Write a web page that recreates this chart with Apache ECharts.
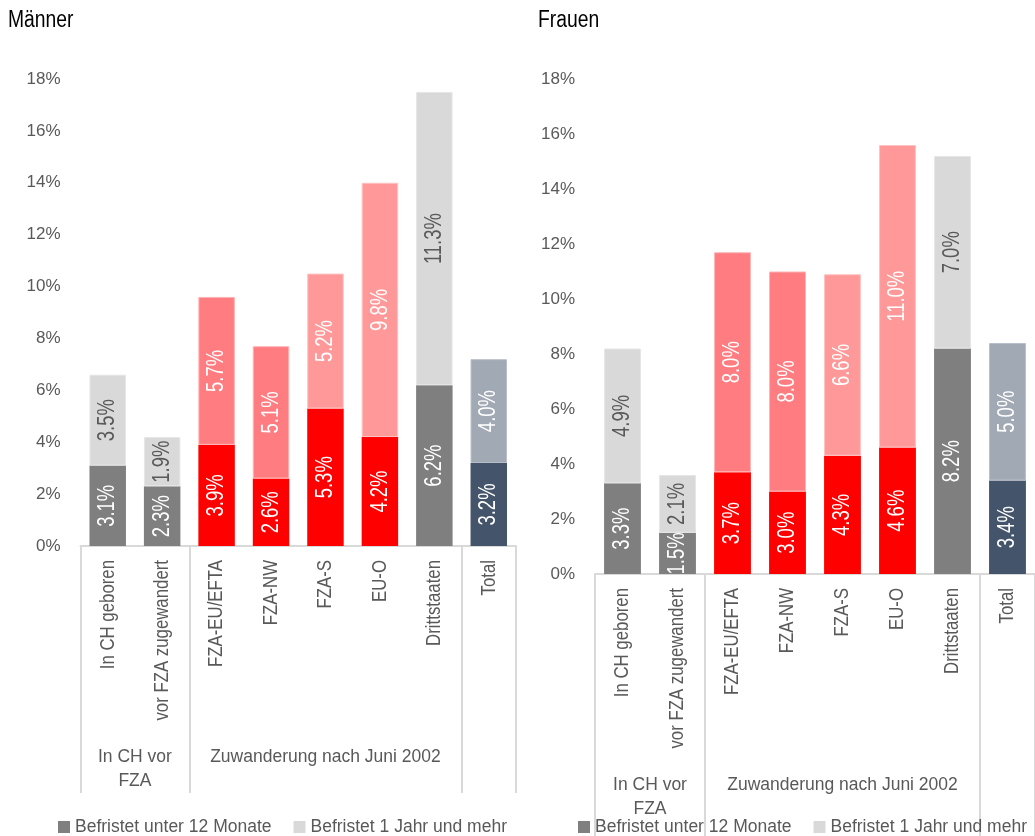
<!DOCTYPE html>
<html>
<head>
<meta charset="utf-8">
<script src="https://cdn.jsdelivr.net/npm/echarts@6/dist/echarts.min.js"></script>
<style>
  html, body { margin: 0; padding: 0; background: #ffffff; overflow: hidden; }
  #chart { width: 1035px; height: 836px; }
</style>
</head>
<body>
<div id="chart"></div>
<script>
// Befristete Anstellungen nach Herkunft, Männer und Frauen (in % der Erwerbstätigen)
const categories = ['In CH geboren', 'vor FZA zugewandert', 'FZA-EU/EFTA', 'FZA-NW', 'FZA-S', 'EU-O', 'Drittstaaten', 'Total'];
const groupNames = ['In CH vor\nFZA', 'Zuwanderung nach Juni 2002', ''];
const groupSizes = [2, 5, 1];
const panelTitles = ['Männer', 'Frauen'];

const seriesNames = ['Befristet unter 12 Monate', 'Befristet 1 Jahr und mehr'];
const menShort = [3.1, 2.3, 3.9, 2.6, 5.3, 4.2, 6.2, 3.2];
const menLong = [3.5, 1.9, 5.7, 5.1, 5.2, 9.8, 11.3, 4.0];
const womenShort = [3.3, 1.5, 3.7, 3.0, 4.3, 4.6, 8.2, 3.4];
const womenLong = [4.9, 2.1, 8.0, 8.0, 6.6, 11.0, 7.0, 5.0];

const yMin = 0, yMax = 18, yStep = 2;

// colours per category
const shortColors = ['#7f7f7f', '#7f7f7f', '#ff0000', '#ff0000', '#ff0000', '#ff0000', '#7f7f7f', '#44546a'];
const longColors = ['#d9d9d9', '#d9d9d9', '#ff7c80', '#ff7c80', '#ff9999', '#ff9999', '#d9d9d9', '#a1a9b4'];
const longBorders = ['#e6e6e6', '#e6e6e6', '#ffb3b5', '#ffb3b5', '#ffc2c2', '#ffc2c2', '#e6e6e6', '#b8bec7'];
const textGrey = '#595959';

const SANS = '"Liberation Sans", Arial, sans-serif';
// condensed look: text is squeezed along its reading direction
const NARROW_SCALE = 0.8;

// group boundaries and centres on a 0..n scale
const boundaries = [0];
const centres = [];
groupSizes.forEach(function (s) {
  const start = boundaries[boundaries.length - 1];
  centres.push(start + s / 2);
  boundaries.push(start + s);
});

function labelColour(bg) {
  return bg === '#d9d9d9' ? textGrey : '#ffffff';
}

function barData(values, colours, borders) {
  return values.map(function (v, i) {
    const style = { color: colours[i] };
    if (borders) { style.borderColor = borders[i]; style.borderWidth = 1; }
    return { value: v, itemStyle: style };
  });
}

const grids = [
  { left: 80.5, top: 79, width: 435.5, height: 467 },
  { left: 595, top: 79, width: 447, height: 495 }
];
const groupTickLen = [247, 265];
const titlePos = [[8, 21], [538, 21]];

const xAxes = [];
const yAxes = [];
grids.forEach(function (g, gi) {
  xAxes.push({
    gridIndex: gi,
    type: 'category',
    data: categories,
    axisLine: { lineStyle: { color: '#d9d9d9', width: 2 } },
    axisTick: { show: false },
    axisLabel: { show: false }
  });
  xAxes.push({
    gridIndex: gi,
    type: 'value',
    min: 0,
    max: categories.length,
    position: 'bottom',
    axisLine: { show: false },
    splitLine: { show: false },
    axisTick: {
      show: true,
      customValues: boundaries,
      length: groupTickLen[gi],
      lineStyle: { color: '#d9d9d9', width: 2 }
    },
    axisLabel: {
      customValues: centres,
      margin: 199,
      fontSize: 17.5,
      lineHeight: 24,
      color: textGrey,
      fontFamily: SANS,
      align: 'center',
      formatter: function (v) {
        const k = centres.indexOf(v);
        return k >= 0 ? groupNames[k] : '';
      }
    }
  });
  yAxes.push({
    gridIndex: gi,
    type: 'value',
    min: yMin,
    max: yMax,
    interval: yStep,
    axisLine: { show: false },
    axisTick: { show: false },
    splitLine: { show: false },
    axisLabel: {
      margin: 20, fontSize: 17, color: textGrey, fontFamily: SANS,
      formatter: '{value}%'
    }
  });
});

function makeBars(name, values, colours, borders, gi, legendColour) {
  return {
    name: name,
    type: 'bar',
    stack: 's' + gi,
    xAxisIndex: gi * 2,
    yAxisIndex: gi,
    barWidth: '67%',
    itemStyle: { color: legendColour },
    data: barData(values, colours, borders)
  };
}

function rotatedText(pt, text, fill, size, align, scale) {
  return {
    type: 'text',
    x: pt[0],
    y: pt[1],
    rotation: Math.PI / 2,
    scaleX: scale,
    style: {
      text: text,
      fill: fill,
      font: size + 'px ' + SANS,
      align: align,
      verticalAlign: 'middle'
    }
  };
}

// value labels inside the stacked segments and rotated category names below the axis
function makeLabels(gi, shortVals, longVals) {
  return {
    name: 'labels-' + gi,
    type: 'custom',
    xAxisIndex: gi * 2,
    yAxisIndex: gi,
    clip: false,
    silent: true,
    z: 10,
    encode: { x: 0, y: 1 },
    data: categories.map(function (c, i) { return [i, shortVals[i], longVals[i]]; }),
    renderItem: function (params, api) {
      const i = api.value(0);
      const s = api.value(1);
      const l = api.value(2);
      const pShort = api.coord([i, s / 2]);
      const pLong = api.coord([i, s + l / 2]);
      const pBase = api.coord([i, 0]);
      return {
        type: 'group',
        children: [
          rotatedText(pShort, s.toFixed(1) + '%', labelColour(shortColors[i]), 24, 'center', 0.77),
          rotatedText(pLong, l.toFixed(1) + '%', labelColour(longColors[i]), 24, 'center', 0.77),
          rotatedText([pBase[0], pBase[1] + 14], categories[i], textGrey, 21, 'right', NARROW_SCALE)
        ]
      };
    }
  };
}

const option = {
  animation: false,
  backgroundColor: '#ffffff',
  graphic: panelTitles.map(function (t, k) {
    return {
      type: 'text',
      x: titlePos[k][0],
      y: titlePos[k][1],
      scaleX: 0.84,
      style: { text: t, fill: '#000000', font: '23px ' + SANS, verticalAlign: 'middle', align: 'left' }
    };
  }),
  legend: [
    {
      left: 58, top: 818, itemWidth: 12, itemHeight: 12, itemGap: 22, padding: 0,
      icon: 'rect', data: seriesNames,
      textStyle: { fontSize: 17.5, color: textGrey, fontFamily: SANS }
    },
    {
      left: 578, top: 818, itemWidth: 12, itemHeight: 12, itemGap: 22, padding: 0,
      icon: 'rect', data: seriesNames,
      textStyle: { fontSize: 17.5, color: textGrey, fontFamily: SANS }
    }
  ],
  grid: grids,
  xAxis: xAxes,
  yAxis: yAxes,
  series: [
    makeBars(seriesNames[0], menShort, shortColors, null, 0, '#7f7f7f'),
    makeBars(seriesNames[1], menLong, longColors, longBorders, 0, '#d9d9d9'),
    makeLabels(0, menShort, menLong),
    makeBars(seriesNames[0], womenShort, shortColors, null, 1, '#7f7f7f'),
    makeBars(seriesNames[1], womenLong, longColors, longBorders, 1, '#d9d9d9'),
    makeLabels(1, womenShort, womenLong)
  ]
};

const chart = echarts.init(document.getElementById('chart'), null, { renderer: 'canvas' });
chart.setOption(option);
</script>
</body>
</html>
